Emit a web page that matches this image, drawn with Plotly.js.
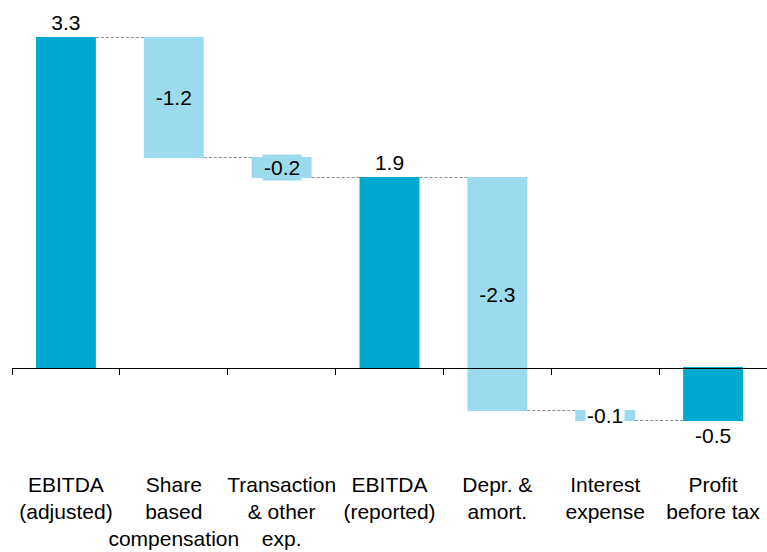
<!DOCTYPE html>
<html>
<head>
<meta charset="utf-8">
<script src="https://cdn.plot.ly/plotly-3.0.1.min.js"></script>
<style>html,body{margin:0;padding:0;background:#fff}#chart{width:767px;height:552px}</style>
</head>
<body>
<div id="chart"></div>
<script>
// Data (EUR m)
var categories = [
  "EBITDA<br>(adjusted)",
  "Share<br>based<br>compensation",
  "Transaction<br>& other<br>exp.",
  "EBITDA<br>(reported)",
  "Depr. &<br>amort.",
  "Interest<br>expense",
  "Profit<br>before tax"
];
var values = [3.3, -1.2, -0.2, 1.9, -2.33, -0.1, -0.53];
var measures = ["absolute", "relative", "relative", "total", "relative", "relative", "total"];

var DARK = "#00A9CE", LIGHT = "#9CDBED";
var FONT = "Liberation Sans, Arial, sans-serif";

// running sums for annotation placement
var starts = [], ends = [], run = 0;
for (var i = 0; i < values.length; i++) {
  var s = run;
  if (measures[i] === "absolute") { s = 0; run = values[i]; }
  else if (measures[i] === "relative") { run = run + values[i]; }
  else { s = 0; }
  starts.push(s); ends.push(run);
}

var textTpl = [], textPos = [];
var annIdx = [2, 5]; // small bars labelled with boxed annotation
for (var j = 0; j < values.length; j++) {
  if (annIdx.indexOf(j) >= 0) { textTpl.push(""); textPos.push("none"); }
  else if (measures[j] === "relative") { textTpl.push("%{delta:.1f}"); textPos.push("inside"); }
  else { textTpl.push("%{final:.1f}"); textPos.push("outside"); }
}

var trace = {
  type: "waterfall",
  x: categories,
  y: values,
  measure: measures,
  texttemplate: textTpl,
  textposition: textPos,
  insidetextanchor: "middle",
  constraintext: "none",
  cliponaxis: false,
  textfont: {family: FONT, size: 21, color: "#000"},
  decreasing: {marker: {color: LIGHT}},
  increasing: {marker: {color: LIGHT}},
  totals: {marker: {color: DARK}},
  connector: {mode: "between", line: {color: "#8c8c8c", width: 1, dash: "3px,2px"}},
  hoverinfo: "skip"
};

var annBg = {2: LIGHT, 5: "#ffffff"};
var annotations = annIdx.map(function (k) {
  return {
    x: categories[k], xref: "x",
    y: (starts[k] + ends[k]) / 2, yref: "y",
    text: values[k].toFixed(1),
    showarrow: false,
    font: {family: FONT, size: 21, color: "#000"},
    bgcolor: annBg[k],
    borderpad: 1
  };
});

var layout = {
  width: 767, height: 552,
  margin: {l: 12, r: 0, t: 0, b: 0},
  paper_bgcolor: "#fff", plot_bgcolor: "#fff",
  showlegend: false,
  waterfallgap: 0.444,
  font: {family: FONT, size: 21, color: "#000"},
  xaxis: {
    type: "category",
    anchor: "free",
    position: 0.3342,
    showline: true, linecolor: "#000", linewidth: 1,
    ticks: "outside", tickson: "boundaries", ticklen: 6, tickwidth: 1, tickcolor: "#000",
    ticklabelstandoff: 98,
    tickangle: 0,
    automargin: false,
    showgrid: false, zeroline: false,
    tickfont: {family: FONT, size: 21, color: "#000"},
    range: [-0.5, 6.5]
  },
  yaxis: {
    range: [-1.845, 3.675],
    visible: false, showgrid: false, zeroline: false
  },
  annotations: annotations
};

Plotly.newPlot("chart", [trace], layout, {displayModeBar: false, staticPlot: true});
</script>
</body>
</html>
